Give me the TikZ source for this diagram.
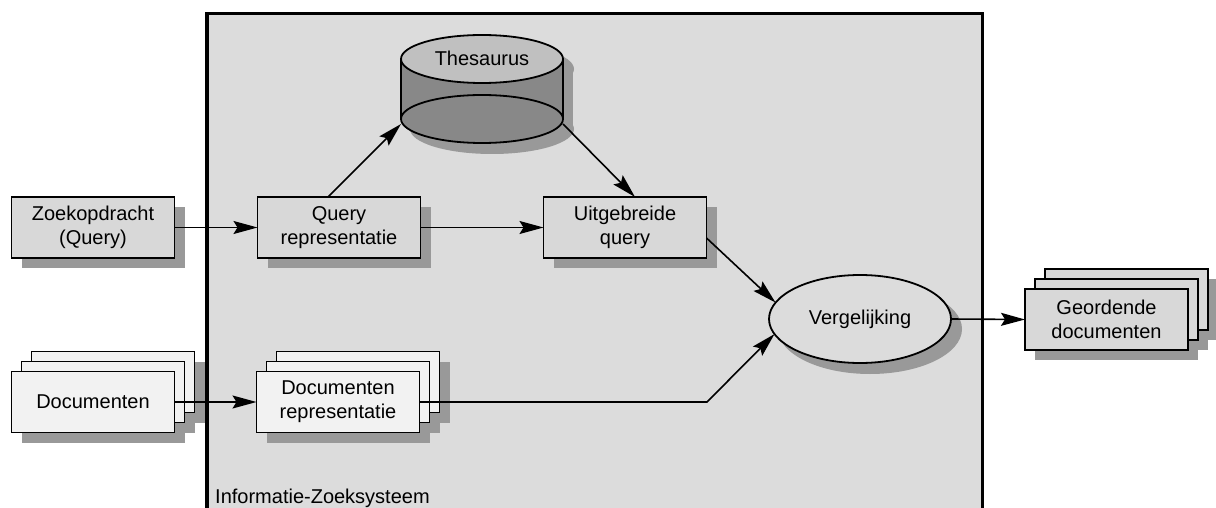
\documentclass[tikz,border=0pt]{standalone}
\usepackage{fontspec}
\setmainfont{Liberation Sans}
\usetikzlibrary{arrows.meta,shapes.geometric}

\definecolor{panel}{HTML}{DCDCDC}
\definecolor{boxgray}{HTML}{D8D8D8}
\definecolor{paper}{HTML}{F2F2F2}
\definecolor{shade}{HTML}{999999}
\definecolor{cyltop}{HTML}{C0C0C0}
\definecolor{cylside}{HTML}{888888}

\pgfdeclarelayer{panellayer}
\pgfdeclarelayer{shadowlayer}
\pgfsetlayers{panellayer,shadowlayer,main}

\tikzset{
  box/.style={draw=black, line width=1.8pt, fill=boxgray, minimum width=163pt,
    minimum height=61pt, align=center, inner sep=0pt, outer sep=0pt},
  paperbox/.style={box, fill=paper},
  arr/.style={line width=1.6pt, -{Stealth[length=24pt,width=13pt,inset=4pt]}},
  boxshadow/.style={fill=shade},
}

\begin{document}
\begin{tikzpicture}[x=1pt,y=-1pt,font=\fontsize{20}{24}\selectfont]
  \clip (0,0) rectangle (1216,508);

  % system panel, open at the bottom
  \begin{pgfonlayer}{panellayer}
    \fill[panel] (207,13.5) rectangle (982.5,530);
    \draw[line width=3.5pt] (207,530) -- (207,13.5) -- (982.5,13.5) -- (982.5,530);
  \end{pgfonlayer}
  \node[anchor=base west, inner sep=0pt] (syslabel) at (215,503) {Informatie-Zoeksysteem};

  % query side
  \node[box] (zq) at (93,227.5) {Zoekopdracht\\(Query)};
  \node[box] (qr) at (339,227.5) {Query\\representatie};
  \node[box] (uq) at (625,227.5) {Uitgebreide\\query};

  % document stacks (back to front)
  \node[paperbox] (doc3) at (113,382) {};
  \node[paperbox] (doc2) at (103,392) {};
  \node[paperbox] (doc1) at (93,402) {Documenten};

  \node[paperbox] (drp3) at (358,382) {};
  \node[paperbox] (drp2) at (348,392) {};
  \node[paperbox] (drp1) at (338,402) {Documenten\\representatie};

  \node[box] (gd3) at (1126.5,299.5) {};
  \node[box] (gd2) at (1116.5,309.5) {};
  \node[box] (gd1) at (1106.5,319.5) {Geordende\\documenten};

  % comparison
  \node[ellipse, draw=black, line width=1.8pt, fill=panel, minimum width=182pt,
        minimum height=88pt, inner sep=0pt, outer sep=0pt] (vg) at (860,319) {Vergelijking};

  % thesaurus cylinder
  \fill[cylside] (401,59) rectangle (563,119);
  \filldraw[fill=cylside, line width=1.8pt] (482,119) ellipse (81 and 24);
  \draw[line width=1.8pt] (401,59) -- (401,119) (563,59) -- (563,119);
  \filldraw[fill=cyltop, line width=1.8pt] (482,59) ellipse (81 and 24);
  \node (thes) at (482,58) {Thesaurus};
  \coordinate (thesL) at (401,124);
  \coordinate (thesR) at (563,124);

  % drop shadows
  \begin{pgfonlayer}{shadowlayer}
    \foreach \n in {zq,qr,uq,doc1,doc2,doc3,drp1,drp2,drp3,gd1,gd2,gd3}
      \fill[boxshadow] ([shift={(10,10)}]\n.north west) rectangle ([shift={(10,10)}]\n.south east);
    \fill[boxshadow] ([shift={(10,10)}]vg.center) ellipse (92 and 45);
    \fill[boxshadow] (411,69) rectangle (573,129);
    \fill[boxshadow] (492,69) ellipse (82 and 25);
    \fill[boxshadow] (492,129) ellipse (82 and 25);
  \end{pgfonlayer}

  % connectors
  \coordinate (bend) at (707,402);
  \draw[arr] (zq.east) -- (qr.west);
  \draw[arr] (qr.east) -- (uq.west);
  \draw[arr] ([xshift=-11pt]qr.north) -- (thesL);
  \draw[arr] (thesR) -- ([xshift=10pt]uq.north);
  \draw[arr] ([yshift=-10.5pt]uq.east) -- (vg.169.5);
  \draw[arr] (doc1.east) -- (drp1.west);
  \draw[arr] (drp1.east) -- (bend) -- (vg.190.5);
  \draw[arr] (vg.east) -- (gd1.west);
\end{tikzpicture}
\end{document}
